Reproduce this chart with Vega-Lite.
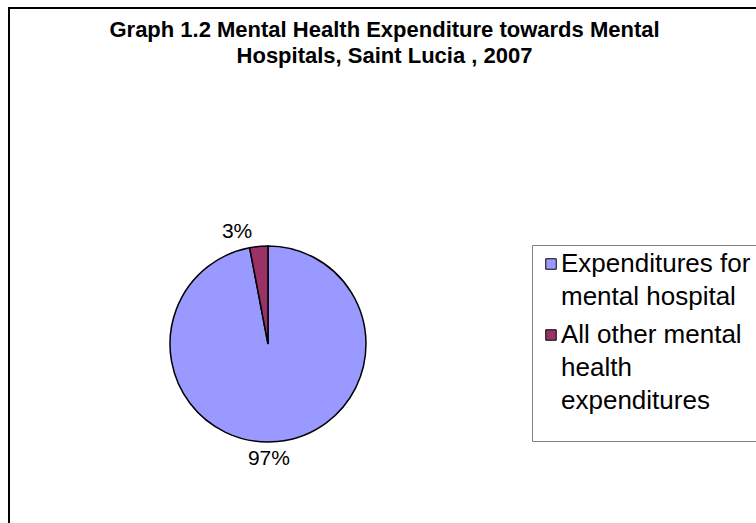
{
  "$schema": "https://vega.github.io/schema/vega-lite/v6.json",
  "width": 751,
  "height": 519,
  "autosize": {"type": "none"},
  "padding": {"left": 9, "top": 8, "right": -4, "bottom": -4},
  "background": "white",
  "view": {"stroke": "black", "strokeWidth": 2},
  "config": {
    "view": {"stroke": "black", "strokeWidth": 2},
    "font": "Liberation Sans"
  },
  "title": {
    "text": ["Graph 1.2 Mental Health Expenditure towards Mental", "Hospitals, Saint Lucia , 2007"],
    "font": "Liberation Sans",
    "fontSize": 22,
    "fontWeight": "bold",
    "lineHeight": 26,
    "anchor": "middle",
    "baseline": "top",
    "offset": -60,
    "color": "black"
  },
  "data": {
    "values": [
      {"Category": "Expenditures for mental hospital", "Share": 0.97},
      {"Category": "All other mental health expenditures", "Share": 0.03}
    ]
  },
  "encoding": {
    "theta": {"field": "Share", "type": "quantitative", "stack": true},
    "order": {"field": "Share", "type": "quantitative", "sort": "descending"}
  },
  "layer": [
    {
      "mark": {"type": "arc", "outerRadius": 98, "stroke": "black", "strokeWidth": 1.5, "x": 259, "y": 336},
      "encoding": {
        "color": {
          "field": "Category",
          "type": "nominal",
          "sort": ["Expenditures for mental hospital", "All other mental health expenditures"],
          "scale": {
            "domain": ["Expenditures for mental hospital", "All other mental health expenditures"],
            "range": ["#9999FF", "#993366"]
          },
          "legend": {
            "title": " ",
            "titleOrient": "bottom",
            "titleFontSize": 14,
            "titlePadding": 7,
            "orient": "none",
            "legendX": 523,
            "legendY": 237,
            "strokeColor": "#808080",
            "padding": 6,
            "symbolType": "square",
            "symbolSize": 110,
            "symbolStrokeColor": "black",
            "symbolStrokeWidth": 1,
            "symbolOpacity": 1,
            "labelFont": "Liberation Sans",
            "labelFontSize": 26,
            "labelColor": "black",
            "labelLimit": 0,
            "labelOffset": -3,
            "rowPadding": 12,
            "labelBaseline": "top",
            "labelExpr": "datum.label == 'Expenditures for mental hospital' ? ['Expenditures for', 'mental hospital'] : ['All other mental', 'health', 'expenditures']",
            "encode": {
              "labels": {"update": {"lineHeight": {"value": 33}, "dy": {"value": -13}}}
            }
          }
        }
      }
    },
    {
      "mark": {"type": "text", "radius": 116, "x": 259, "y": 336, "dx": -20, "dy": 3, "fontSize": 21, "font": "Liberation Sans", "color": "black"},
      "encoding": {
        "detail": {"field": "Category", "type": "nominal"},
        "text": {"condition": {"test": "datum.Share < 0.5", "field": "Share", "type": "quantitative", "format": ".0%"}, "value": ""}
      }
    },
    {
      "mark": {"type": "text", "radius": 116, "x": 259, "y": 336, "dx": -10, "fontSize": 21, "font": "Liberation Sans", "color": "black"},
      "encoding": {
        "detail": {"field": "Category", "type": "nominal"},
        "text": {"condition": {"test": "datum.Share >= 0.5", "field": "Share", "type": "quantitative", "format": ".0%"}, "value": ""}
      }
    }
  ]
}
